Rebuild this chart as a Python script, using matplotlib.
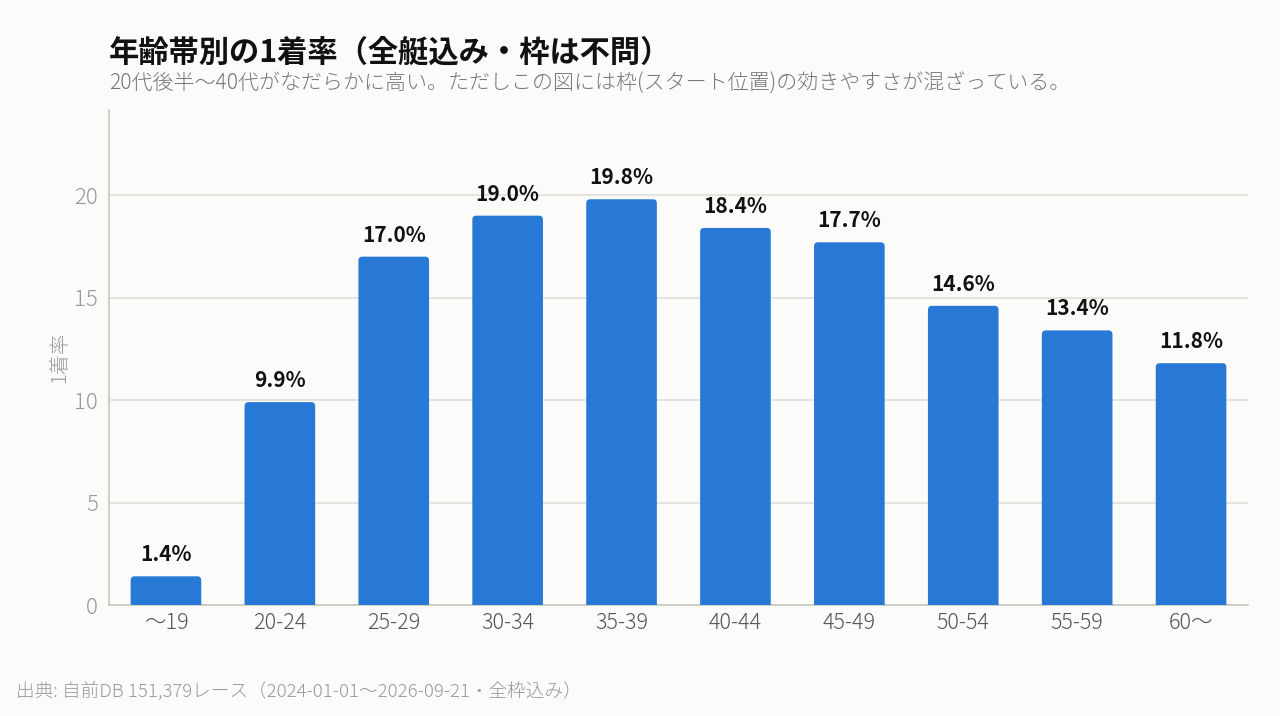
import matplotlib
matplotlib.use("Agg")
import matplotlib.pyplot as plt
from matplotlib.patches import FancyBboxPatch

plt.rcParams['font.family'] = ['Noto Sans CJK JP', 'DejaVu Sans']

categories = ["〜19", "20-24", "25-29", "30-34", "35-39", "40-44", "45-49", "50-54", "55-59", "60〜"]
win_rate = [1.4, 9.9, 17.0, 19.0, 19.8, 18.4, 17.7, 14.6, 13.4, 11.8]
yticks = [0, 5, 10, 15, 20]

title = "年齢帯別の1着率（全艇込み・枠は不問）"
subtitle = "20代後半〜40代がなだらかに高い。ただしこの図には枠(スタート位置)の効きやすさが混ざっている。"
ylabel = "1着率"
source = "出典: 自前DB 151,379レース（2024-01-01〜2026-09-21・全枠込み）"

bg = "#fbfbf9"
bar_color = "#2878d6"

fig = plt.figure(figsize=(12.8, 7.16), dpi=100, facecolor=bg)
ax = fig.add_axes([109/1280, 1 - 605/716, (1248-109)/1280, (605-110)/716])
ax.set_facecolor(bg)

x = list(range(len(categories)))
ax.set_xlim(-0.5, len(categories) - 0.5)
ymax = max(win_rate) * 1.22
ax.set_ylim(0, ymax)

bars = ax.bar(x, win_rate, width=0.62, color=bar_color, zorder=3)

# rounded top corners
fig.canvas.draw()
px_per_x = ax.bbox.width / (len(categories))
px_per_y = ax.bbox.height / ymax
r_px = 4
rx = r_px / px_per_x
aspect = px_per_x / px_per_y
for b in bars:
    bx, by = b.get_x(), b.get_y()
    w, h = b.get_width(), b.get_height()
    ry = r_px / px_per_y
    p = FancyBboxPatch((bx, by - ry), w, h + ry,
                       boxstyle=f"round,pad=0,rounding_size={rx}",
                       mutation_aspect=aspect,
                       facecolor=bar_color, edgecolor="none", zorder=3,
                       clip_on=True)
    ax.add_patch(p)
    b.set_visible(False)
    ax.annotate(f"{h:.1f}%", (bx + w/2, h), xytext=(0, 8), textcoords="offset points",
                ha="center", va="bottom", fontsize=15, fontweight="bold", color="#111111")

ax.set_xticks(x)
ax.set_xticklabels(categories)
ax.set_yticks(yticks)
ax.tick_params(axis="x", length=0, labelsize=15.5, colors="#555555", pad=5)
ax.tick_params(axis="y", length=0, labelsize=16, colors="#999999", pad=8)
for lab in ax.get_xticklabels() + ax.get_yticklabels():
    lab.set_fontweight("light")
ax.grid(axis="y", color="#e0e0da", linewidth=1.2, zorder=0)
ax.set_axisbelow(True)
for s in ["top", "right"]:
    ax.spines[s].set_visible(False)
for s in ["left", "bottom"]:
    ax.spines[s].set_color("#c8c8c0")
    ax.spines[s].set_linewidth(1.2)
ax.set_ylabel(ylabel, color="#999999", fontsize=14.5, labelpad=3, fontweight="light")

fig.text(109/1280, 1 - 53/716, title, fontsize=21.8, fontweight="bold", color="#111111", va="center", ha="left")
fig.text(109/1280, 1 - 84/716, subtitle, fontsize=15.1, color="#777777", va="center", ha="left", fontweight="light")
fig.text(16/1280, 1 - 691/716, source, fontsize=13.4, color="#999999", va="center", ha="left", fontweight="light")

fig.savefig("out.png", dpi=100, facecolor=bg)
